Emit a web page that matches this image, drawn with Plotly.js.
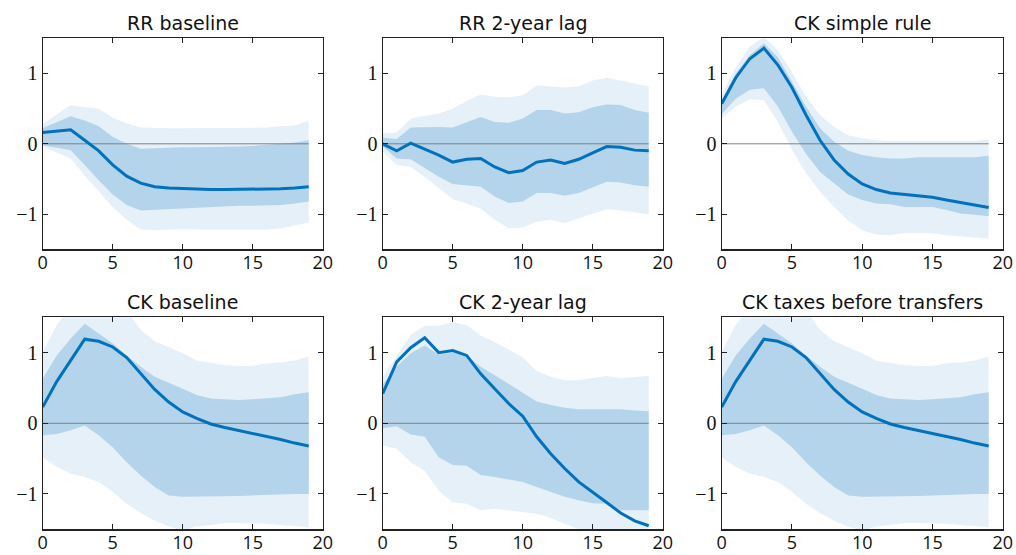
<!DOCTYPE html>
<html>
<head>
<meta charset="utf-8">
<script src="https://cdn.plot.ly/plotly-3.0.1.min.js"></script>
<style>html,body{margin:0;padding:0;background:#fff;}#chart{width:1016px;height:555px;}</style>
</head>
<body>
<div id="chart"></div>
<script>
// ---- data ----
const horizon = [0,1,2,3,4,5,6,7,8,9,10,11,12,13,14,15,16,17,18,19];
const panelTitles = ["RR baseline","RR 2-year lag","CK simple rule","CK baseline","CK 2-year lag","CK taxes before transfers"];
const xTickVals = [0,5,10,15,20];
const yTickVals = [-1,0,1];

// RR baseline
const rrBaseMid  = [0.16,0.18,0.20,0.05,-0.10,-0.30,-0.46,-0.56,-0.61,-0.63,-0.64,-0.65,-0.65,-0.65,-0.65,-0.65,-0.65,-0.64,-0.63,-0.61];
const rrBaseHi68 = [0.22,0.31,0.39,0.33,0.25,0.10,0.00,-0.07,-0.06,-0.06,-0.05,-0.05,-0.05,-0.05,-0.04,-0.03,-0.02,0.00,0.02,0.05];
const rrBaseLo68 = [-0.02,-0.05,-0.09,-0.30,-0.52,-0.72,-0.87,-0.95,-0.94,-0.92,-0.91,-0.90,-0.89,-0.88,-0.88,-0.88,-0.88,-0.87,-0.85,-0.82];
const rrBaseHi90 = [0.28,0.42,0.55,0.52,0.50,0.37,0.29,0.23,0.22,0.22,0.22,0.22,0.22,0.22,0.22,0.22,0.23,0.25,0.26,0.33];
const rrBaseLo90 = [-0.04,-0.12,-0.21,-0.45,-0.68,-0.90,-1.08,-1.22,-1.23,-1.22,-1.21,-1.22,-1.22,-1.22,-1.22,-1.22,-1.22,-1.20,-1.16,-1.12];

// RR 2-year lag
const rrLagMid  = [0.00,-0.10,0.01,-0.07,-0.16,-0.26,-0.22,-0.21,-0.33,-0.41,-0.38,-0.26,-0.23,-0.28,-0.22,-0.13,-0.04,-0.05,-0.09,-0.10];
const rrLagHi68 = [0.085,0.07,0.23,0.24,0.24,0.23,0.31,0.38,0.31,0.30,0.36,0.48,0.48,0.43,0.45,0.52,0.56,0.55,0.48,0.44];
const rrLagLo68 = [-0.04,-0.21,-0.22,-0.35,-0.47,-0.57,-0.59,-0.61,-0.75,-0.84,-0.82,-0.70,-0.70,-0.74,-0.70,-0.62,-0.54,-0.55,-0.59,-0.61];
const rrLagHi90 = [0.15,0.16,0.36,0.39,0.43,0.50,0.61,0.70,0.67,0.66,0.69,0.83,0.82,0.80,0.82,0.90,0.94,0.90,0.86,0.82];
const rrLagLo90 = [-0.11,-0.30,-0.33,-0.47,-0.63,-0.79,-0.85,-0.92,-1.08,-1.20,-1.19,-1.11,-1.08,-1.13,-1.06,-0.99,-0.93,-0.95,-0.98,-1.00];

// CK simple rule
const ckSimpleMid  = [0.57,0.94,1.21,1.36,1.12,0.80,0.41,0.05,-0.23,-0.43,-0.57,-0.65,-0.70,-0.72,-0.74,-0.76,-0.80,-0.83,-0.87,-0.905];
const ckSimpleHi68 = [0.62,1.00,1.26,1.43,1.23,0.88,0.53,0.22,0.03,-0.10,-0.16,-0.19,-0.21,-0.21,-0.19,-0.19,-0.19,-0.19,-0.19,-0.17];
const ckSimpleLo68 = [0.42,0.64,0.77,0.79,0.53,0.17,-0.14,-0.40,-0.56,-0.72,-0.80,-0.85,-0.86,-0.90,-0.90,-0.90,-0.94,-0.99,-1.01,-1.03];
const ckSimpleHi90 = [0.69,1.09,1.38,1.52,1.33,1.02,0.67,0.41,0.24,0.12,0.08,0.05,0.04,0.04,0.04,0.04,0.04,0.04,0.04,0.06];
const ckSimpleLo90 = [0.36,0.53,0.63,0.62,0.31,-0.08,-0.42,-0.68,-0.90,-1.09,-1.23,-1.29,-1.30,-1.27,-1.27,-1.27,-1.30,-1.32,-1.33,-1.35];

// CK baseline
const ckBaseMid  = [0.23,0.59,0.89,1.19,1.16,1.08,0.93,0.70,0.48,0.30,0.16,0.07,-0.01,-0.06,-0.10,-0.14,-0.19,-0.23,-0.28,-0.32];
const ckBaseHi68 = [0.63,0.96,1.20,1.41,1.27,1.13,0.96,0.80,0.66,0.58,0.49,0.40,0.35,0.34,0.33,0.34,0.36,0.37,0.41,0.44];
const ckBaseLo68 = [-0.17,-0.15,-0.10,-0.03,-0.17,-0.34,-0.55,-0.74,-0.90,-1.02,-1.04,-1.04,-1.04,-1.04,-1.03,-1.02,-1.01,-1.00,-1.00,-1.00];
const ckBaseHi90 = [1.01,1.39,1.65,1.75,1.72,1.65,1.60,1.32,1.16,1.08,0.99,0.89,0.85,0.82,0.81,0.81,0.85,0.86,0.89,0.94];
const ckBaseLo90 = [-0.48,-0.62,-0.71,-0.76,-0.83,-0.97,-1.14,-1.27,-1.38,-1.46,-1.52,-1.46,-1.44,-1.41,-1.41,-1.41,-1.42,-1.44,-1.46,-1.47];

// CK 2-year lag
const ckLagMid  = [0.42,0.87,1.07,1.21,1.00,1.03,0.96,0.70,0.49,0.28,0.10,-0.19,-0.43,-0.64,-0.83,-0.97,-1.12,-1.27,-1.38,-1.45];
const ckLagHi68 = [0.55,0.80,0.99,1.10,0.97,1.00,0.96,0.80,0.68,0.56,0.44,0.31,0.26,0.22,0.20,0.20,0.20,0.20,0.18,0.17];
const ckLagLo68 = [-0.07,-0.04,-0.16,-0.19,-0.48,-0.59,-0.60,-0.73,-0.76,-0.79,-0.83,-0.90,-0.97,-1.04,-1.09,-1.13,-1.14,-1.23,-1.23,-1.23];
const ckLagHi90 = [0.66,0.96,1.25,1.38,1.38,1.43,1.39,1.24,1.15,1.04,0.93,0.74,0.66,0.61,0.61,0.64,0.67,0.64,0.66,0.67];
const ckLagLo90 = [-0.31,-0.36,-0.55,-0.67,-0.95,-1.12,-1.14,-1.23,-1.21,-1.23,-1.26,-1.28,-1.34,-1.42,-1.50,-1.56,-1.60,-1.62,-1.64,-1.66];

// CK taxes before transfers
const ckTaxMid  = [0.23,0.59,0.89,1.19,1.16,1.08,0.93,0.70,0.48,0.30,0.16,0.07,-0.01,-0.06,-0.10,-0.14,-0.19,-0.23,-0.28,-0.32];
const ckTaxHi68 = [0.63,0.96,1.20,1.41,1.27,1.13,0.96,0.80,0.66,0.58,0.49,0.40,0.35,0.34,0.33,0.34,0.36,0.37,0.41,0.44];
const ckTaxLo68 = [-0.17,-0.15,-0.10,-0.03,-0.17,-0.34,-0.55,-0.74,-0.90,-1.02,-1.04,-1.04,-1.04,-1.04,-1.03,-1.02,-1.01,-1.00,-1.00,-1.00];
const ckTaxHi90 = [1.01,1.39,1.65,1.75,1.72,1.65,1.60,1.32,1.16,1.08,0.99,0.89,0.85,0.82,0.81,0.81,0.85,0.86,0.89,0.94];
const ckTaxLo90 = [-0.48,-0.62,-0.71,-0.76,-0.83,-0.97,-1.14,-1.27,-1.38,-1.46,-1.52,-1.46,-1.44,-1.41,-1.41,-1.41,-1.42,-1.44,-1.46,-1.47];

const zeroLine = horizon.map(() => 0);

// ---- styling ----
const W = 1016, H = 555;
const lineColor = 'rgb(0,114,189)';
const band68 = 'rgb(179,212,234)';
const band90 = 'rgb(230,240,248)';
const panels = [
  {mid: rrBaseMid, hi68: rrBaseHi68, lo68: rrBaseLo68, hi90: rrBaseHi90, lo90: rrBaseLo90},
  {mid: rrLagMid, hi68: rrLagHi68, lo68: rrLagLo68, hi90: rrLagHi90, lo90: rrLagLo90},
  {mid: ckSimpleMid, hi68: ckSimpleHi68, lo68: ckSimpleLo68, hi90: ckSimpleHi90, lo90: ckSimpleLo90},
  {mid: ckBaseMid, hi68: ckBaseHi68, lo68: ckBaseLo68, hi90: ckBaseHi90, lo90: ckBaseLo90},
  {mid: ckLagMid, hi68: ckLagHi68, lo68: ckLagLo68, hi90: ckLagHi90, lo90: ckLagLo90},
  {mid: ckTaxMid, hi68: ckTaxHi68, lo68: ckTaxLo68, hi90: ckTaxHi90, lo90: ckTaxLo90}
];
// pixel boxes [left, right] / [top, bottom]
const colPx = [[42.7, 322.7], [382.7, 662.7], [721.7, 1002.7]];
const rowPx = [[38.3, 249.3], [317.3, 529.3]];

const traces = [];
const layout = {
  width: W, height: H,
  margin: {l: 0, r: 0, t: 0, b: 0},
  paper_bgcolor: '#fff', plot_bgcolor: '#fff',
  showlegend: false,
  annotations: []
};

panels.forEach((p, i) => {
  const r = Math.floor(i / 3), c = i % 3;
  const n = i + 1;
  const xa = n === 1 ? 'x' : 'x' + n, ya = n === 1 ? 'y' : 'y' + n;
  const common = {x: horizon, xaxis: xa, yaxis: ya, mode: 'lines', hoverinfo: 'skip'};
  traces.push(Object.assign({}, common, {y: p.lo90, line: {width: 0, color: band90}}));
  traces.push(Object.assign({}, common, {y: p.hi90, line: {width: 0, color: band90}, fill: 'tonexty', fillcolor: band90}));
  traces.push(Object.assign({}, common, {y: p.lo68, line: {width: 0, color: band68}}));
  traces.push(Object.assign({}, common, {y: p.hi68, line: {width: 0, color: band68}, fill: 'tonexty', fillcolor: band68}));
  traces.push(Object.assign({}, common, {y: zeroLine, line: {width: 1, color: 'rgb(128,128,128)'}}));
  traces.push(Object.assign({}, common, {y: p.mid, line: {width: 3, color: lineColor}}));

  const xd = [colPx[c][0] / W, colPx[c][1] / W];
  const yd = [1 - rowPx[r][1] / H, 1 - rowPx[r][0] / H];
  layout['xaxis' + (n === 1 ? '' : n)] = {
    domain: xd, anchor: ya, range: [0, 20], tickvals: xTickVals,
    ticks: 'inside', ticklen: 5, tickwidth: 1, tickcolor: '#222',
    showline: true, mirror: 'ticks', linecolor: '#222', linewidth: 1.2,
    showgrid: false, zeroline: false, fixedrange: true,
    ticklabelstandoff: -3,
    tickfont: {family: '"Open Sans", "DejaVu Sans", sans-serif', size: 18, color: '#111'}
  };
  layout['yaxis' + (n === 1 ? '' : n)] = {
    domain: yd, anchor: xa, range: [-1.5, 1.5], tickvals: yTickVals,
    ticks: 'inside', ticklen: 5, tickwidth: 1, tickcolor: '#222',
    showline: true, mirror: 'ticks', linecolor: '#222', linewidth: 1.2,
    showgrid: false, zeroline: false, fixedrange: true,
    tickfont: {family: '"Liberation Serif", "DejaVu Serif", serif', size: 20, color: '#111'}
  };
  layout.annotations.push({
    text: panelTitles[i], xref: 'paper', yref: 'paper',
    x: (xd[0] + xd[1]) / 2, y: yd[1], xanchor: 'center', yanchor: 'bottom',
    yshift: 2, showarrow: false,
    font: {family: '"DejaVu Sans", sans-serif', size: 19, color: '#111'}
  });
});

Plotly.newPlot('chart', traces, layout, {staticPlot: true, displayModeBar: false});
</script>
</body>
</html>
